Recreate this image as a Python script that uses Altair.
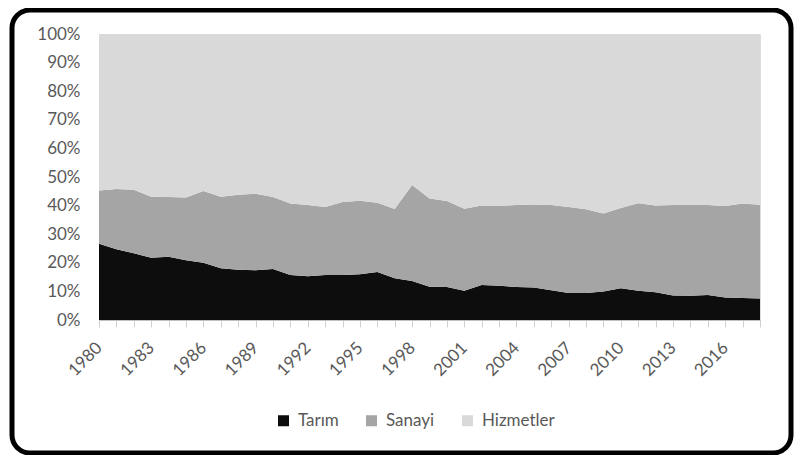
import altair as alt
import pandas as pd

years = list(range(1980, 2019))
tarim = [26.7, 24.7, 23.3, 21.8, 22.1, 20.9, 20.0, 18.1, 17.6, 17.4,
         17.8, 15.7, 15.3, 15.7, 15.7, 16.0, 16.8, 14.6, 13.6, 11.6,
         11.5, 10.2, 12.2, 12.0, 11.5, 11.4, 10.4, 9.4, 9.4, 10.0,
         11.1, 10.2, 9.7, 8.6, 8.5, 8.7, 7.9, 7.7, 7.5]
sanayi = [18.6, 21.1, 22.2, 21.3, 20.9, 21.9, 25.1, 25.0, 26.2, 26.7,
          25.2, 25.0, 24.9, 23.8, 25.6, 25.7, 24.2, 24.2, 33.6, 30.9,
          30.1, 28.7, 27.8, 27.9, 28.7, 29.0, 29.8, 30.1, 29.3, 27.2,
          28.1, 30.6, 30.3, 31.6, 31.7, 31.5, 32.0, 33.0, 32.8]
hizmetler = [round(100 - t - s, 1) for t, s in zip(tarim, sanayi)]

series = ["Tarım", "Sanayi", "Hizmetler"]
colors = ["#0d0d0d", "#a5a5a5", "#d9d9d9"]
label_years = list(range(1980, 2017, 3))

rows = []
for i, (name, vals) in enumerate(zip(series, [tarim, sanayi, hizmetler])):
    for y, v in zip(years, vals):
        rows.append({"Yıl": y, "Sektör": name, "Pay": v, "ord": i})
df = pd.DataFrame(rows)

FONT = "Lato"
TXT = "#595959"

area = alt.Chart(df).mark_area(interpolate="linear").encode(
    x=alt.X("Yıl:Q",
            scale=alt.Scale(domain=[1980, 2018], nice=False, zero=False),
            axis=alt.Axis(values=years, format="d", labelAngle=-45,
                          labelAlign="right", labelBaseline="middle",
                          labelExpr="indexof(" + str(label_years) + ", datum.value) >= 0 ? datum.label : ''",
                          grid=False, domainColor="#bfbfbf", tickColor="#d0d0d0",
                          tickSize=7, labelColor=TXT, labelFontSize=17, labelFont=FONT,
                          labelPadding=18, labelOffset=0, title=None,
                          labelOverlap=False, labelBound=False)),
    y=alt.Y("Pay:Q", stack="normalize",
            scale=alt.Scale(domain=[0, 1]),
            axis=alt.Axis(values=[i / 10 for i in range(11)], format=".0%", grid=False,
                          domain=False, ticks=False, labelPadding=19, labelColor=TXT,
                          labelFontSize=17, labelFont=FONT, title=None)),
    color=alt.Color("Sektör:N", scale=alt.Scale(domain=series, range=colors),
                    legend=alt.Legend(title=None, orient="none", direction="horizontal",
                                      legendX=176, legendY=378, symbolType="square",
                                      symbolSize=121, symbolStrokeWidth=0, labelFontSize=17,
                                      labelFont=FONT, labelColor=TXT, labelOffset=6,
                                      columnPadding=24, padding=0, symbolOpacity=1)),
    order=alt.Order("ord:Q", sort="ascending"),
)

frame = alt.Chart(pd.DataFrame({"k": [0]})).mark_rect(
    fill=None, stroke="#000000", strokeWidth=5, cornerRadius=18
).encode(
    x=alt.value(-87), x2=alt.value(692), y=alt.value(-24), y2=alt.value(419)
)

chart = alt.layer(area, frame).properties(
    width=661, height=286,
    autosize=alt.AutoSizeParams(type="none"),
    padding={"left": 91, "top": 26, "right": 34, "bottom": 135},
).configure_view(stroke=None).configure(background="white")

chart.save("out.html", embed_options={"renderer": "svg", "actions": False})
